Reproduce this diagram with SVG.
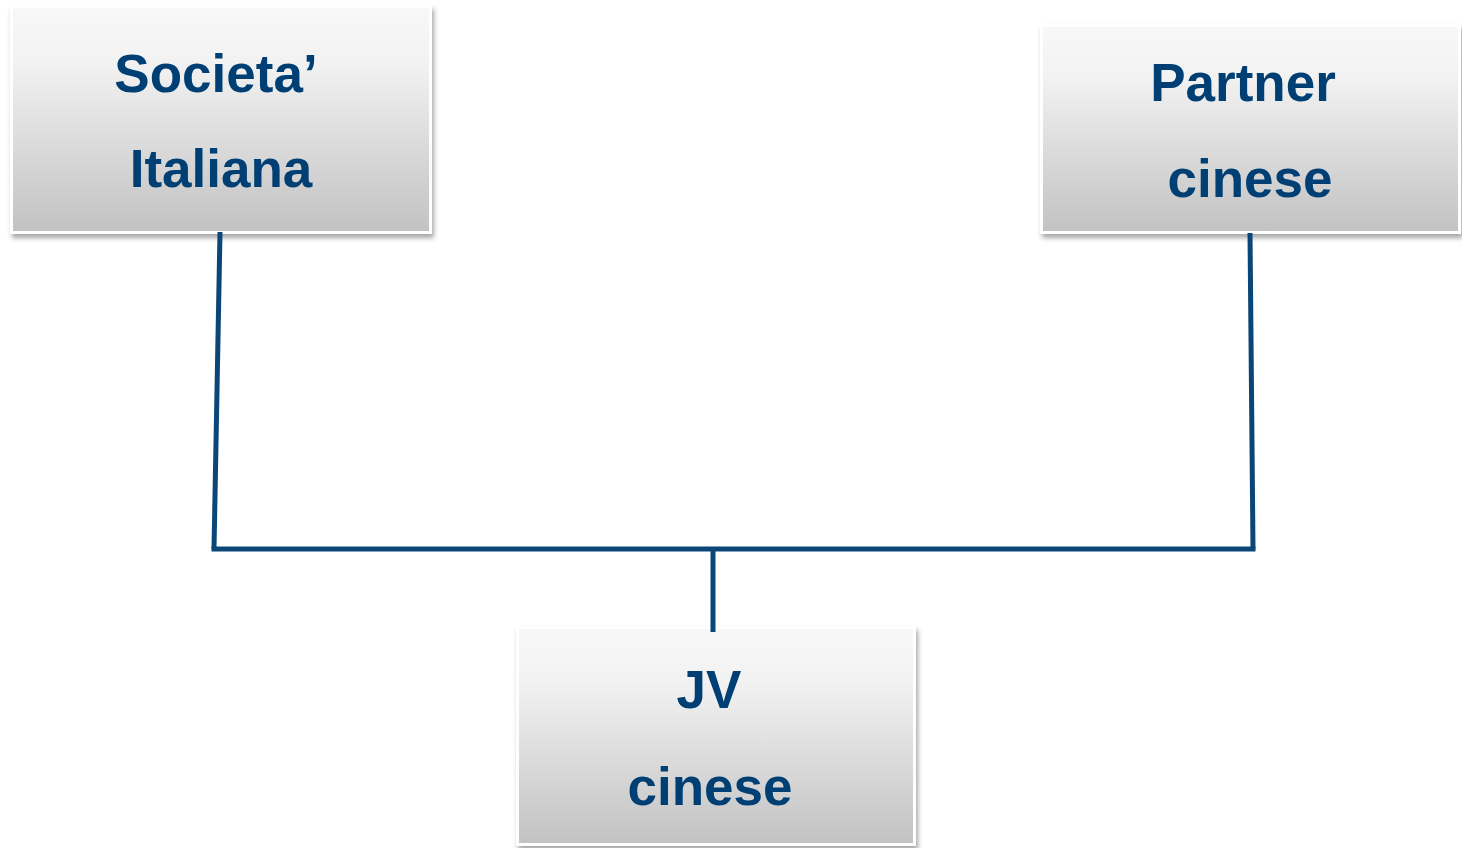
<svg xmlns="http://www.w3.org/2000/svg" width="1462" height="848" viewBox="0 0 1462 848">
<defs>
<linearGradient id="g" x1="0" y1="0" x2="0" y2="1">
<stop offset="0" stop-color="#f8f8f8"/>
<stop offset="0.25" stop-color="#f2f2f2"/>
<stop offset="1" stop-color="#c2c2c2"/>
</linearGradient>
<filter id="sh" x="-10%" y="-10%" width="120%" height="130%">
<feDropShadow dx="2" dy="4" stdDeviation="2.5" flood-color="#000" flood-opacity="0.35"/>
</filter>
</defs>
<style>
.box{fill:url(#g);stroke:#ffffff;stroke-width:3;filter:url(#sh)}
.t{font-family:"Liberation Sans",Arial,sans-serif;font-weight:bold;font-size:53px;fill:#003f73;text-anchor:middle}
.c{fill:none;stroke:#0a4677;stroke-width:5;stroke-linecap:butt}
</style>
<g id="node-societa">
<rect class="box" x="11.5" y="6.5" width="419" height="226"/>
<text class="t" x="216" y="92">Societa’</text>
<text class="t" x="221" y="187">Italiana</text>
</g>
<g id="node-partner">
<rect class="box" x="1041.5" y="25.5" width="418" height="207"/>
<text class="t" x="1243" y="101">Partner</text>
<text class="t" x="1250" y="197">cinese</text>
</g>
<g id="node-jv">
<rect class="box" x="517.5" y="627.5" width="397" height="217"/>
<text class="t" x="709" y="708">JV</text>
<text class="t" x="710" y="805">cinese</text>
</g>
<g id="connectors">
<polyline class="c" points="220,232 214,549"/>
<polyline class="c" points="1250,233 1253,549"/>
<polyline class="c" points="211.5,549 1255.5,549"/>
<polyline class="c" points="713,549 713,632"/>
</g>
</svg>
